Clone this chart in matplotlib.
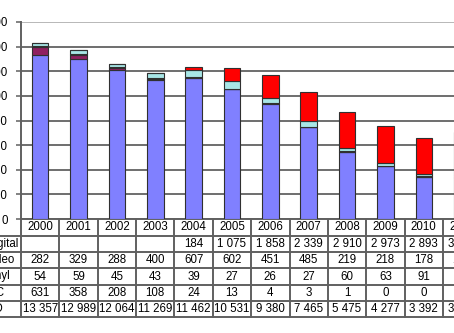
import matplotlib
matplotlib.use("Agg")
import matplotlib.pyplot as plt
from matplotlib.transforms import blended_transform_factory
import numpy as np

plt.rcParams['font.family'] = ['Liberation Sans', 'DejaVu Sans']

years = [2000, 2001, 2002, 2003, 2004, 2005, 2006, 2007, 2008, 2009, 2010, 2011]
digital = [0, 0, 0, 0, 184, 1075, 1858, 2339, 2910, 2973, 2893, 3500]
video = [282, 329, 288, 400, 607, 602, 451, 485, 219, 218, 178, 140]
vinyl = [54, 59, 45, 43, 39, 27, 26, 27, 60, 63, 91, 95]
mc = [631, 358, 208, 108, 24, 13, 4, 3, 1, 0, 0, 0]
cd = [13357, 12989, 12064, 11269, 11462, 10531, 9380, 7465, 5475, 4277, 3392, 3300]
y_ticks = [0, 2000, 4000, 6000, 8000, 10000, 12000, 14000, 16000]

# stacked from the bottom up, table rows listed top down
series = [("CD", cd, "#8080FF"), ("MC", mc, "#902060"), ("Vinyl", vinyl, "#222222"),
          ("Video", video, "#A8E6E6"), ("Digital", digital, "#FF0000")]

W, H = 454, 333
fig = plt.figure(figsize=(W / 100, H / 100), dpi=100)

# plot area in pixels: y axis at x=21, zero line at y=219, top at y=22
cat_w = 38.36
x0, y0, ytop = 21, 219, 22
ax = fig.add_axes([x0 / W, 1 - y0 / H, len(years) * cat_w / W, (y0 - ytop) / H])

x = np.arange(len(years))
bottom = np.zeros(len(years))
for name, vals, col in series:
    ax.bar(x, vals, width=0.43, bottom=bottom, color=col, edgecolor="#303030",
           linewidth=0.8, zorder=3)
    bottom += np.array(vals)

ax.set_xlim(-0.5, len(years) - 0.5)
ax.set_ylim(0, 16000)
ax.set_yticks(y_ticks)
ax.set_yticklabels([str(t) for t in y_ticks], fontsize=8.3)
ax.set_xticks([])
ax.tick_params(axis='y', length=3.8, width=1.1, color="#606060", pad=5.8)
ax.grid(axis='y', color="#6E6E6E", linewidth=1.4, zorder=0)
ax.get_ygridlines()[-1].set_color("#B8B8B8")
for s in ("top", "right"):
    ax.spines[s].set_visible(False)
for s in ("left", "bottom"):
    ax.spines[s].set_color("#606060")
    ax.spines[s].set_linewidth(1.4)

# data table under the axis
tr = blended_transform_factory(ax.transData, fig.transFigure)
def fy(py):
    return 1 - py / H

row_lines = [236, 252, 268, 284.5, 301, 317]
for py in row_lines:
    fig.add_artist(plt.Line2D([0, 1], [fy(py), fy(py)], transform=fig.transFigure,
                              color="#606060", linewidth=1.4))
for k in range(len(years) + 1):
    ax.plot([k - 0.5, k - 0.5], [fy(y0), fy(317)], transform=tr, color="#606060",
            linewidth=1.4, clip_on=False)

def fmt(v):
    return f"{v:,}".replace(",", " ")

row_mid = [227.5, 244, 260, 276.5, 293, 309.5]
for i, yr in enumerate(years):
    ax.text(i, fy(row_mid[0]), str(yr), transform=tr, ha='center', va='center',
            fontsize=8.3)

table_rows = series[::-1]
for r, (name, vals, col) in enumerate(table_rows):
    ym = fy(row_mid[r + 1])
    fig.text(-14 / W, ym, name, ha='left', va='center', fontsize=8.3)
    for i, v in enumerate(vals):
        if name == "Digital" and v == 0:
            continue
        ax.text(i, ym, fmt(v), transform=tr, ha='center', va='center', fontsize=8.3)

fig.savefig("out.png", dpi=100)
